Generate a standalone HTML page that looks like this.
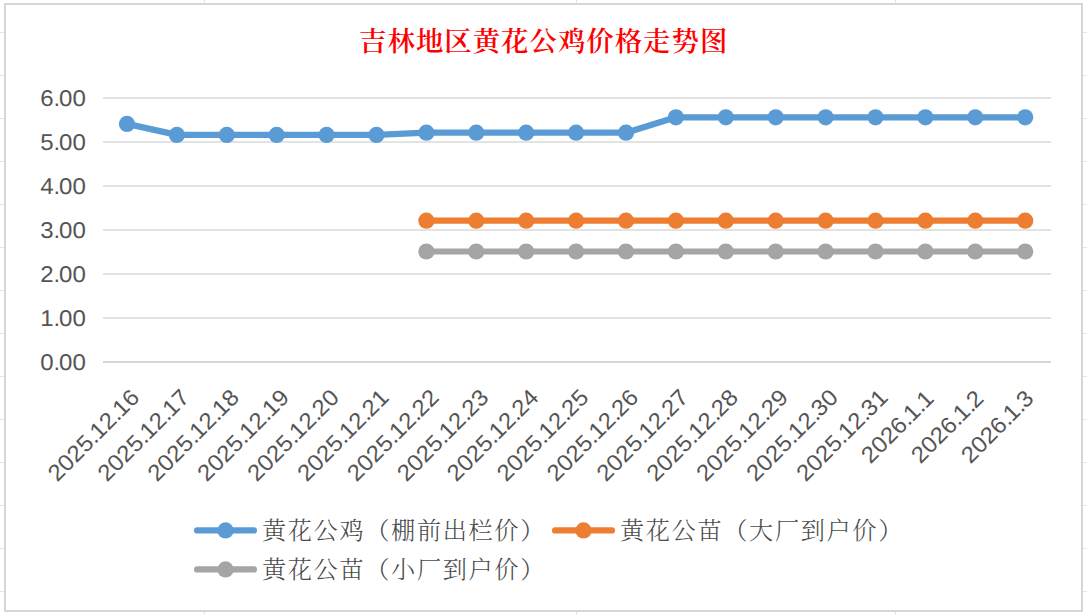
<!DOCTYPE html>
<html lang="zh-CN">
<head>
<meta charset="utf-8">
<title>吉林地区黄花公鸡价格走势图</title>
<style>
html,body{margin:0;padding:0;background:#fff;}
body{width:1087px;height:615px;overflow:hidden;}
svg{display:block;}
.ax{font-family:"Liberation Sans",sans-serif;fill:#555;text-rendering:geometricPrecision;}
.lg{font-family:"Liberation Serif","Noto Serif CJK SC",serif;fill:#4a4a4a;font-weight:300;}
.tt{font-family:"Liberation Serif","Noto Serif CJK SC",serif;fill:#ff0000;}
</style>
</head>
<body>
<svg width="1087" height="615" viewBox="0 0 1087 615">
<rect x="0" y="0" width="1087" height="615" fill="#ffffff"/>
<g fill="#e4e4e4" shape-rendering="crispEdges">
<rect x="0" y="32" width="1087" height="1"/><rect x="0" y="75" width="1087" height="1"/><rect x="0" y="118" width="1087" height="1"/><rect x="0" y="161" width="1087" height="1"/><rect x="0" y="204" width="1087" height="1"/><rect x="0" y="247" width="1087" height="1"/><rect x="0" y="290" width="1087" height="1"/><rect x="0" y="333" width="1087" height="1"/><rect x="0" y="376" width="1087" height="1"/><rect x="0" y="419" width="1087" height="1"/><rect x="0" y="462" width="1087" height="1"/><rect x="0" y="505" width="1087" height="1"/><rect x="0" y="548" width="1087" height="1"/><rect x="0" y="591" width="1087" height="1"/>
<rect x="204" y="0" width="1" height="615"/><rect x="576" y="0" width="1" height="615"/><rect x="895" y="0" width="1" height="615"/>
</g>
<rect x="5" y="4" width="1077" height="607" fill="#ffffff" stroke="#d6d6d6" stroke-width="2" shape-rendering="crispEdges"/>
<g fill="#e3e3e3" shape-rendering="crispEdges">
<rect x="103" y="97" width="948" height="2"/><rect x="103" y="141" width="948" height="2"/><rect x="103" y="185" width="948" height="2"/><rect x="103" y="229" width="948" height="2"/><rect x="103" y="273" width="948" height="2"/><rect x="103" y="317" width="948" height="2"/><rect x="103" y="361" width="948" height="2" fill="#d7d7d7"/>
</g>
<g class="ax" font-size="22.9">
<text transform="translate(86.0 105.8) scale(1.05 1)" x="-43.46 -30.90 -25.65 -12.80" y="0">6.00</text>
<text transform="translate(86.0 149.8) scale(1.05 1)" x="-43.46 -30.90 -25.65 -12.80" y="0">5.00</text>
<text transform="translate(86.0 193.8) scale(1.05 1)" x="-43.46 -30.90 -25.65 -12.80" y="0">4.00</text>
<text transform="translate(86.0 237.8) scale(1.05 1)" x="-43.46 -30.90 -25.65 -12.80" y="0">3.00</text>
<text transform="translate(86.0 281.8) scale(1.05 1)" x="-43.46 -30.90 -25.65 -12.80" y="0">2.00</text>
<text transform="translate(86.0 325.8) scale(1.05 1)" x="-43.46 -30.90 -25.65 -12.80" y="0">1.00</text>
<text transform="translate(86.0 369.8) scale(1.05 1)" x="-43.46 -30.90 -25.65 -12.80" y="0">0.00</text>
</g>
<g fill="#a5a5a5" stroke="none">
<polyline points="426.4,251.5 476.3,251.5 526.2,251.5 576.1,251.5 626.0,251.5 675.9,251.5 725.8,251.5 775.7,251.5 825.6,251.5 875.5,251.5 925.4,251.5 975.3,251.5 1025.2,251.5" fill="none" stroke="#a5a5a5" stroke-width="6.2" stroke-linecap="round" stroke-linejoin="round"/>
<circle cx="426.4" cy="251.5" r="8.1"/><circle cx="476.3" cy="251.5" r="8.1"/><circle cx="526.2" cy="251.5" r="8.1"/><circle cx="576.1" cy="251.5" r="8.1"/><circle cx="626.0" cy="251.5" r="8.1"/><circle cx="675.9" cy="251.5" r="8.1"/><circle cx="725.8" cy="251.5" r="8.1"/><circle cx="775.7" cy="251.5" r="8.1"/><circle cx="825.6" cy="251.5" r="8.1"/><circle cx="875.5" cy="251.5" r="8.1"/><circle cx="925.4" cy="251.5" r="8.1"/><circle cx="975.3" cy="251.5" r="8.1"/><circle cx="1025.2" cy="251.5" r="8.1"/>
</g>
<g fill="#ed7d31" stroke="none">
<polyline points="426.4,220.7 476.3,220.7 526.2,220.7 576.1,220.7 626.0,220.7 675.9,220.7 725.8,220.7 775.7,220.7 825.6,220.7 875.5,220.7 925.4,220.7 975.3,220.7 1025.2,220.7" fill="none" stroke="#ed7d31" stroke-width="6.2" stroke-linecap="round" stroke-linejoin="round"/>
<circle cx="426.4" cy="220.7" r="8.1"/><circle cx="476.3" cy="220.7" r="8.1"/><circle cx="526.2" cy="220.7" r="8.1"/><circle cx="576.1" cy="220.7" r="8.1"/><circle cx="626.0" cy="220.7" r="8.1"/><circle cx="675.9" cy="220.7" r="8.1"/><circle cx="725.8" cy="220.7" r="8.1"/><circle cx="775.7" cy="220.7" r="8.1"/><circle cx="825.6" cy="220.7" r="8.1"/><circle cx="875.5" cy="220.7" r="8.1"/><circle cx="925.4" cy="220.7" r="8.1"/><circle cx="975.3" cy="220.7" r="8.1"/><circle cx="1025.2" cy="220.7" r="8.1"/>
</g>
<g fill="#5b9bd5" stroke="none">
<polyline points="127.0,123.9 176.9,134.9 226.8,134.9 276.7,134.9 326.6,134.9 376.5,134.9 426.4,132.7 476.3,132.7 526.2,132.7 576.1,132.7 626.0,132.7 675.9,117.3 725.8,117.3 775.7,117.3 825.6,117.3 875.5,117.3 925.4,117.3 975.3,117.3 1025.2,117.3" fill="none" stroke="#5b9bd5" stroke-width="6.2" stroke-linecap="round" stroke-linejoin="round"/>
<circle cx="127.0" cy="123.9" r="8.1"/><circle cx="176.9" cy="134.9" r="8.1"/><circle cx="226.8" cy="134.9" r="8.1"/><circle cx="276.7" cy="134.9" r="8.1"/><circle cx="326.6" cy="134.9" r="8.1"/><circle cx="376.5" cy="134.9" r="8.1"/><circle cx="426.4" cy="132.7" r="8.1"/><circle cx="476.3" cy="132.7" r="8.1"/><circle cx="526.2" cy="132.7" r="8.1"/><circle cx="576.1" cy="132.7" r="8.1"/><circle cx="626.0" cy="132.7" r="8.1"/><circle cx="675.9" cy="117.3" r="8.1"/><circle cx="725.8" cy="117.3" r="8.1"/><circle cx="775.7" cy="117.3" r="8.1"/><circle cx="825.6" cy="117.3" r="8.1"/><circle cx="875.5" cy="117.3" r="8.1"/><circle cx="925.4" cy="117.3" r="8.1"/><circle cx="975.3" cy="117.3" r="8.1"/><circle cx="1025.2" cy="117.3" r="8.1"/>
</g>
<g class="ax" font-size="22.9">
<text transform="translate(140.8 398.8) rotate(-45) scale(1.05 1)" x="-112.70 -99.84 -86.99 -74.13 -61.56 -56.32 -43.46 -30.90 -25.65 -12.80" y="0">2025.12.16</text>
<text transform="translate(190.7 398.8) rotate(-45) scale(1.05 1)" x="-112.70 -99.84 -86.99 -74.13 -61.56 -56.32 -43.46 -30.90 -25.65 -12.80" y="0">2025.12.17</text>
<text transform="translate(240.6 398.8) rotate(-45) scale(1.05 1)" x="-112.70 -99.84 -86.99 -74.13 -61.56 -56.32 -43.46 -30.90 -25.65 -12.80" y="0">2025.12.18</text>
<text transform="translate(290.5 398.8) rotate(-45) scale(1.05 1)" x="-112.70 -99.84 -86.99 -74.13 -61.56 -56.32 -43.46 -30.90 -25.65 -12.80" y="0">2025.12.19</text>
<text transform="translate(340.4 398.8) rotate(-45) scale(1.05 1)" x="-112.70 -99.84 -86.99 -74.13 -61.56 -56.32 -43.46 -30.90 -25.65 -12.80" y="0">2025.12.20</text>
<text transform="translate(390.3 398.8) rotate(-45) scale(1.05 1)" x="-112.70 -99.84 -86.99 -74.13 -61.56 -56.32 -43.46 -30.90 -25.65 -12.80" y="0">2025.12.21</text>
<text transform="translate(440.2 398.8) rotate(-45) scale(1.05 1)" x="-112.70 -99.84 -86.99 -74.13 -61.56 -56.32 -43.46 -30.90 -25.65 -12.80" y="0">2025.12.22</text>
<text transform="translate(490.1 398.8) rotate(-45) scale(1.05 1)" x="-112.70 -99.84 -86.99 -74.13 -61.56 -56.32 -43.46 -30.90 -25.65 -12.80" y="0">2025.12.23</text>
<text transform="translate(540.0 398.8) rotate(-45) scale(1.05 1)" x="-112.70 -99.84 -86.99 -74.13 -61.56 -56.32 -43.46 -30.90 -25.65 -12.80" y="0">2025.12.24</text>
<text transform="translate(589.9 398.8) rotate(-45) scale(1.05 1)" x="-112.70 -99.84 -86.99 -74.13 -61.56 -56.32 -43.46 -30.90 -25.65 -12.80" y="0">2025.12.25</text>
<text transform="translate(639.8 398.8) rotate(-45) scale(1.05 1)" x="-112.70 -99.84 -86.99 -74.13 -61.56 -56.32 -43.46 -30.90 -25.65 -12.80" y="0">2025.12.26</text>
<text transform="translate(689.7 398.8) rotate(-45) scale(1.05 1)" x="-112.70 -99.84 -86.99 -74.13 -61.56 -56.32 -43.46 -30.90 -25.65 -12.80" y="0">2025.12.27</text>
<text transform="translate(739.6 398.8) rotate(-45) scale(1.05 1)" x="-112.70 -99.84 -86.99 -74.13 -61.56 -56.32 -43.46 -30.90 -25.65 -12.80" y="0">2025.12.28</text>
<text transform="translate(789.5 398.8) rotate(-45) scale(1.05 1)" x="-112.70 -99.84 -86.99 -74.13 -61.56 -56.32 -43.46 -30.90 -25.65 -12.80" y="0">2025.12.29</text>
<text transform="translate(839.4 398.8) rotate(-45) scale(1.05 1)" x="-112.70 -99.84 -86.99 -74.13 -61.56 -56.32 -43.46 -30.90 -25.65 -12.80" y="0">2025.12.30</text>
<text transform="translate(889.3 398.8) rotate(-45) scale(1.05 1)" x="-112.70 -99.84 -86.99 -74.13 -61.56 -56.32 -43.46 -30.90 -25.65 -12.80" y="0">2025.12.31</text>
<text transform="translate(935.2 399.8) rotate(-45) scale(1.05 1)" x="-86.99 -74.13 -61.27 -48.42 -35.85 -30.61 -18.04 -12.80" y="0">2026.1.1</text>
<text transform="translate(985.1 399.8) rotate(-45) scale(1.05 1)" x="-86.99 -74.13 -61.27 -48.42 -35.85 -30.61 -18.04 -12.80" y="0">2026.1.2</text>
<text transform="translate(1035.0 399.8) rotate(-45) scale(1.05 1)" x="-86.99 -74.13 -61.27 -48.42 -35.85 -30.61 -18.04 -12.80" y="0">2026.1.3</text>
</g>
<text class="tt" x="359.1" y="51.4" font-size="27.4" font-weight="600" textLength="368.2" lengthAdjust="spacing">吉林地区黄花公鸡价格走势图</text>
<g>
<line x1="197.2" y1="530.4" x2="253.8" y2="530.4" stroke="#5b9bd5" stroke-width="6.4" stroke-linecap="round"/>
<circle cx="225.5" cy="530.4" r="8.1" fill="#5b9bd5"/>
<text class="lg" x="261.9" y="539.0" font-size="24.2" textLength="282.5" lengthAdjust="spacing">黄花公鸡（棚前出栏价）</text>
</g>
<g>
<line x1="555.2" y1="530.4" x2="611.8" y2="530.4" stroke="#ed7d31" stroke-width="6.4" stroke-linecap="round"/>
<circle cx="583.5" cy="530.4" r="8.1" fill="#ed7d31"/>
<text class="lg" x="619.9" y="539.0" font-size="24.2" textLength="282.5" lengthAdjust="spacing">黄花公苗（大厂到户价）</text>
</g>
<g>
<line x1="197.2" y1="569.4" x2="253.8" y2="569.4" stroke="#a5a5a5" stroke-width="6.4" stroke-linecap="round"/>
<circle cx="225.5" cy="569.4" r="8.1" fill="#a5a5a5"/>
<text class="lg" x="261.9" y="578.0" font-size="24.2" textLength="282.5" lengthAdjust="spacing">黄花公苗（小厂到户价）</text>
</g>
</svg>
</body>
</html>
